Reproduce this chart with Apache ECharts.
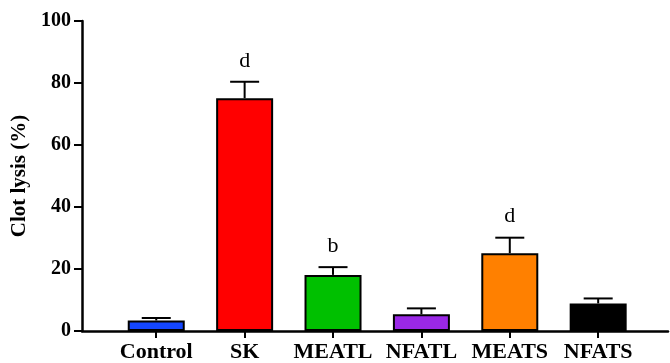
<!DOCTYPE html>
<html><head><meta charset="utf-8">
<script src="https://cdn.jsdelivr.net/npm/echarts@6/dist/echarts.min.js"></script>
<style>html,body{margin:0;padding:0;background:#fff}#c{width:670px;height:363px}</style>
</head><body><div id="c"></div>
<script>
const categories = ['Control', 'SK', 'MEATL', 'NFATL', 'MEATS', 'NFATS'];
const means = [3.4, 75.1, 18.1, 5.4, 25.1, 8.9];
const errors = [0.8, 5.3, 2.5, 1.9, 5.0, 1.6];
const letters = ['', 'd', 'b', '', 'd', ''];
const colors = ['#1446ff', '#ff0000', '#00c000', '#9a28e6', '#ff8000', '#000000'];
const yTicks = [0, 20, 40, 60, 80, 100];

const chart = echarts.init(document.getElementById('c'));
const idx = categories.map((_, i) => i);
chart.setOption({
  animation: false,
  grid: {left: 82, right: 2, top: 21, bottom: 32, containLabel: false, outerBoundsMode: 'none'},
  xAxis: {
    type: 'value', min: -0.84, max: 5.79,
    axisLine: {show: true, onZero: false, lineStyle: {color: '#000', width: 2.5}},
    axisTick: {show: true, length: 7, lineStyle: {color: '#000', width: 2}, customValues: idx},
    axisLabel: {customValues: idx, formatter: v => categories[Math.round(v)] || '', color: '#000',
      fontFamily: 'Liberation Serif', fontWeight: 'bold', fontSize: 22, margin: 10},
    splitLine: {show: false}
  },
  yAxis: {
    type: 'value', min: 0, max: 100, interval: 20,
    name: 'Clot lysis (%)', nameLocation: 'middle', nameGap: 47,
    nameTextStyle: {fontFamily: 'Liberation Serif', fontWeight: 'bold', fontSize: 21, color: '#000'},
    axisLine: {show: true, onZero: false, lineStyle: {color: '#000', width: 2.5}},
    axisTick: {show: true, length: 8, lineStyle: {color: '#000', width: 2}},
    axisLabel: {color: '#000', fontFamily: 'Liberation Serif', fontWeight: 'bold', fontSize: 20, margin: 11,
      customValues: yTicks},
    splitLine: {show: false}
  },
  series: [
    {
      type: 'custom', z: 1,
      data: idx.map(i => [i, means[i], errors[i]]),
      renderItem: (params, api) => {
        const x = api.value(0), m = api.value(1), e = api.value(2);
        const p0 = api.coord([x, m]);
        const p1 = api.coord([x, m + e]);
        const hw = 14.5;
        const st = {stroke: '#000', lineWidth: 2};
        return {type: 'group', children: [
          {type: 'line', shape: {x1: p0[0], y1: p0[1], x2: p1[0], y2: p1[1]}, style: st},
          {type: 'line', shape: {x1: p1[0] - hw, y1: p1[1], x2: p1[0] + hw, y2: p1[1]}, style: st}
        ]};
      }
    },
    {
      type: 'bar', z: 2, barWidth: 57,
      data: idx.map(i => ({value: [i, means[i]], itemStyle: {color: colors[i]}})),
      itemStyle: {borderColor: '#000', borderWidth: 2}
    },
    {
      type: 'custom', z: 3,
      data: idx.map(i => [i, means[i] + errors[i]]),
      renderItem: (params, api) => {
        const i = api.value(0);
        const p = api.coord([i, api.value(1)]);
        return {type: 'text', style: {text: letters[i], x: p[0], y: p[1] - 10,
          align: 'center', verticalAlign: 'bottom', fill: '#000',
          font: '22px "Liberation Serif"'}};
      }
    }
  ]
});
</script></body></html>
